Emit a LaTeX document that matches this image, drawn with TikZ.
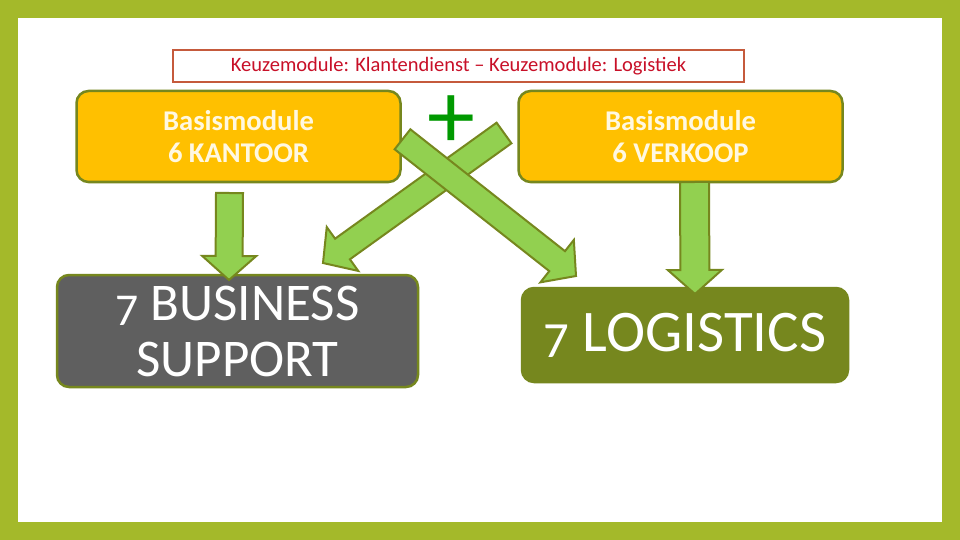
\documentclass[tikz,border=0pt]{standalone}
\usepackage{fontspec}
\setmainfont{Carlito}
\usetikzlibrary{calc}

\definecolor{framegreen}{RGB}{164,185,42}
\definecolor{modyellow}{RGB}{255,192,0}
\definecolor{oliveline}{RGB}{118,135,30}
\definecolor{arrowgreen}{RGB}{146,208,80}
\definecolor{supportgray}{RGB}{95,95,95}
\definecolor{titlered}{RGB}{200,16,40}
\definecolor{titleframe}{RGB}{197,90,60}
\definecolor{plusgreen}{RGB}{0,153,0}
\definecolor{cream}{RGB}{255,248,225}

\newcommand{\lowseven}{\raisebox{-0.1em}{\scalebox{0.86}{7}}}

\tikzset{
  bigarrow/.style={draw=oliveline, fill=arrowgreen, line width=2pt, line join=miter},
  basis/.style={rectangle, rounded corners=12pt, draw=oliveline, line width=2.5pt,
    fill=modyellow, text=cream, minimum width=324pt, minimum height=91pt,
    inner sep=0pt, align=center, font=\fontsize{28.6}{32}\selectfont\bfseries},
  module/.style={rectangle, rounded corners=12pt, draw=oliveline, line width=2.5pt,
    text=white, inner sep=0pt, align=center}
}

\newcommand{\blockarrow}[3]{%
  \draw[bigarrow] let \p1=($(#2)-(#1)$), \n1={atan2(\y1,\x1)}, \n2={veclen(\x1,\y1)} in
    ($(#1)+(\n1+90:#3)$) -- ($(#1)+(\n1:\n2-24pt)+(\n1+90:#3)$)
    -- ($(#1)+(\n1:\n2-24pt)+(\n1+90:27pt)$) -- (#2)
    -- ($(#1)+(\n1:\n2-24pt)+(\n1-90:27pt)$)
    -- ($(#1)+(\n1:\n2-24pt)+(\n1-90:#3)$)
    -- ($(#1)+(\n1-90:#3)$) -- cycle;}

\begin{document}
\begin{tikzpicture}[x=1pt,y=-1pt]

  \useasboundingbox (0,0) rectangle (960,540);
  \fill[framegreen] (0,0) rectangle (960,540);
  \fill[white] (18,18) rectangle (942,522);

  \node (keuze) [draw=titleframe, line width=2pt, text=titlered, minimum width=571pt,
    minimum height=32pt, inner sep=0pt, font=\fontsize{20.5}{22}\selectfont]
    at (458.5,66) {Keuzemodule: Klantendienst -- Keuzemodule: Logistiek};

  \begin{scope}[every node/.style={basis}]
    \node (kantoor) at (238.5,136.5) {Basismodule\\6 KANTOOR};
    \node (verkoop) at (680.5,136.5) {Basismodule\\6 VERKOOP};
  \end{scope}

  \begin{scope}[every node/.style={module}]
    \node (support) [fill=supportgray, minimum width=361pt, minimum height=112pt,
      font=\fontsize{53}{56}\selectfont] at (237.5,331) {\lowseven{} BUSINESS\\SUPPORT};
    \node (logistics) [fill=oliveline, minimum width=326pt, minimum height=94pt,
      font=\fontsize{59}{62}\selectfont] at (685,335) {\lowseven{} LOGISTICS};
  \end{scope}

  \coordinate (kantoor-out) at (229.5,193);
  \coordinate (support-in) at (229,280);
  \coordinate (verkoop-out) at (694.5,182);
  \coordinate (logistics-in) at (695,294);
  \coordinate (cross-a) at (504,133);
  \coordinate (support-side) at (323,263);
  \coordinate (cross-b) at (402.5,139.3);
  \coordinate (logistics-side) at (576,276);

  \blockarrow{kantoor-out}{support-in}{13.5pt}
  \blockarrow{verkoop-out}{logistics-in}{14.5pt}
  \blockarrow{cross-a}{support-side}{12.7pt}
  \blockarrow{cross-b}{logistics-side}{12.7pt}

  \node (plus) [text=plusgreen, inner sep=0pt, font=\fontsize{96}{96}\selectfont]
    at (451,122) {+};

\end{tikzpicture}
\end{document}
